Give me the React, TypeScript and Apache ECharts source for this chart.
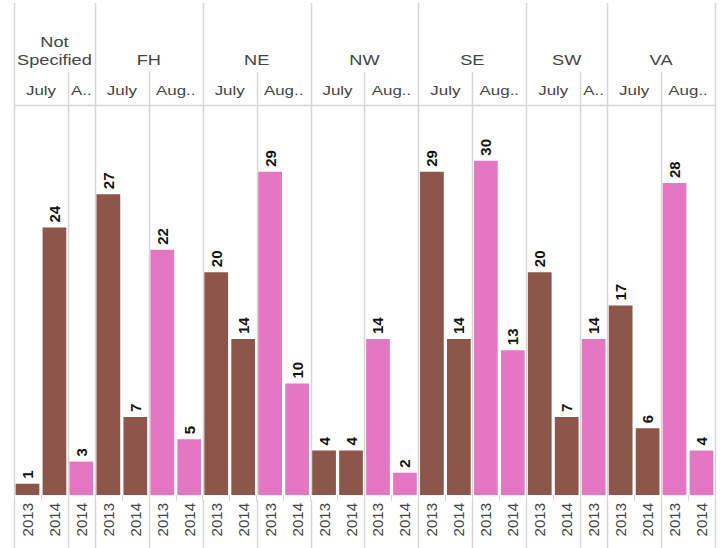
import React, { useEffect, useRef } from "react";
import * as echarts from "echarts";

// ---- data ----
const barRegions = [
  "Not Specified", "Not Specified", "Not Specified",
  "FH", "FH", "FH", "FH",
  "NE", "NE", "NE", "NE",
  "NW", "NW", "NW", "NW",
  "SE", "SE", "SE", "SE",
  "SW", "SW", "SW",
  "VA", "VA", "VA", "VA",
];
const barMonths = [
  "July", "July", "August",
  "July", "July", "August", "August",
  "July", "July", "August", "August",
  "July", "July", "August", "August",
  "July", "July", "August", "August",
  "July", "July", "August",
  "July", "July", "August", "August",
];
const barYears = [
  "2013", "2014", "2014",
  "2013", "2014", "2013", "2014",
  "2013", "2014", "2013", "2014",
  "2013", "2014", "2013", "2014",
  "2013", "2014", "2013", "2014",
  "2013", "2014", "2013",
  "2013", "2014", "2013", "2014",
];
const barValues = [
  1, 24, 3,
  27, 7, 22, 5,
  20, 14, 29, 10,
  4, 4, 14, 2,
  29, 14, 30, 13,
  20, 7, 14,
  17, 6, 28, 4,
];
// header labels as displayed (truncated by column width)
const regionLabels: Record<string, string> = {
  "Not Specified": "Not\nSpecified",
  FH: "FH",
  NE: "NE",
  NW: "NW",
  SE: "SE",
  SW: "SW",
  VA: "VA",
};
const monthHeaderLabels = [
  "July", "A..",
  "July", "Aug..",
  "July", "Aug..",
  "July", "Aug..",
  "July", "Aug..",
  "July", "A..",
  "July", "Aug..",
];
const monthColors: Record<string, string> = { July: "#8c564b", August: "#e377c2" };
const yMax = 35;

const FONT = "'Liberation Sans', Arial, sans-serif";
const LINE = "#d6d6d6";

function runs(arr: string[]) {
  const out: { key: string; start: number; end: number }[] = [];
  arr.forEach((k, i) => {
    const last = out[out.length - 1];
    if (last && last.key === k && last.end === i - 1) last.end = i;
    else out.push({ key: k, start: i, end: i });
  });
  return out;
}

export default function App() {
  const ref = useRef<HTMLDivElement>(null);
  useEffect(() => {
    document.body.style.margin = "0";
    const chart = echarts.init(ref.current!, null, { renderer: "svg" });
    chart.setOption({
      animation: false,
      grid: { left: 14, right: 8, top: 105, bottom: 53 },
      xAxis: {
        type: "category",
        data: barYears,
        axisLine: { show: false },
        axisTick: { show: true, length: 6, lineStyle: { color: LINE } },
        axisLabel: {
          rotate: 90,
          interval: 0,
          fontSize: 15,
          fontFamily: FONT,
          color: "#444",
          margin: 8,
        },
        splitLine: { show: false },
      },
      yAxis: {
        type: "value",
        min: 0,
        max: yMax,
        show: false,
        splitLine: { show: false },
      },
      series: [
        {
          type: "bar",
          barCategoryGap: "12%",
          data: barValues.map((v, i) => ({
            value: v,
            itemStyle: { color: monthColors[barMonths[i]] },
          })),
          label: {
            show: true,
            position: "top",
            rotate: 90,
            align: "left",
            verticalAlign: "middle",
            distance: 5,
            fontSize: 15,
            fontWeight: "bold",
            fontFamily: FONT,
            color: "#111",
          },
        },
      ],
    });

    const px = (i: number) => chart.convertToPixel({ xAxisIndex: 0 }, i) as number;
    const half = (px(1) - px(0)) / 2;
    const yTop = chart.convertToPixel({ yAxisIndex: 0 }, yMax) as number;
    const yBase = chart.convertToPixel({ yAxisIndex: 0 }, 0) as number;
    const left = px(0) - half;
    const right = px(barValues.length - 1) + half;
    const footTop = yBase + 5;
    const H = 548;

    const els: any[] = [];
    const vline = (x: number, y1: number, y2: number) =>
      els.push({
        type: "line",
        shape: { x1: Math.round(x) + 0.5, y1, x2: Math.round(x) + 0.5, y2 },
        style: { stroke: LINE, lineWidth: 1.5 },
        silent: true,
      });

    // horizontal line at top of plot
    els.push({
      type: "line",
      shape: { x1: left, y1: yTop + 0.5, x2: right, y2: yTop + 0.5 },
      style: { stroke: LINE, lineWidth: 1.5 },
      silent: true,
    });

    const regionRuns = runs(barRegions);
    const monthRuns = runs(barRegions.map((r, i) => r + "|" + barMonths[i]));

    // region boundaries (full height)
    regionRuns.forEach((r) => {
      const x0 = px(r.start) - half;
      vline(x0, 3, yBase);
      vline(x0, footTop, H);
      const cx = (px(r.start) + px(r.end)) / 2;
      els.push({
        type: "text",
        x: cx,
        y: 69,
        scaleX: 1.3,
        style: {
          text: regionLabels[r.key],
          align: "center",
          verticalAlign: "bottom",
          fontSize: 14,
          lineHeight: 18,
          fontFamily: FONT,
          fill: "#444",
        },
        silent: true,
      });
    });
    vline(right, 3, yBase);
    vline(right, footTop, H);

    // month boundaries
    monthRuns.forEach((m, k) => {
      const x0 = px(m.start) - half;
      const isRegionStart = regionRuns.some((r) => r.start === m.start);
      if (!isRegionStart) {
        vline(x0, 72, yBase);
        vline(x0, footTop, H);
      }
      const cx = (px(m.start) + px(m.end)) / 2;
      els.push({
        type: "text",
        x: cx,
        y: 90,
        scaleX: 1.3,
        style: {
          text: monthHeaderLabels[k],
          align: "center",
          verticalAlign: "middle",
          fontSize: 13,
          fontFamily: FONT,
          fill: "#444",
        },
        silent: true,
      });
    });

    chart.setOption({ graphic: els });
    return () => chart.dispose();
  }, []);
  return <div ref={ref} style={{ width: 723, height: 548 }} />;
}
